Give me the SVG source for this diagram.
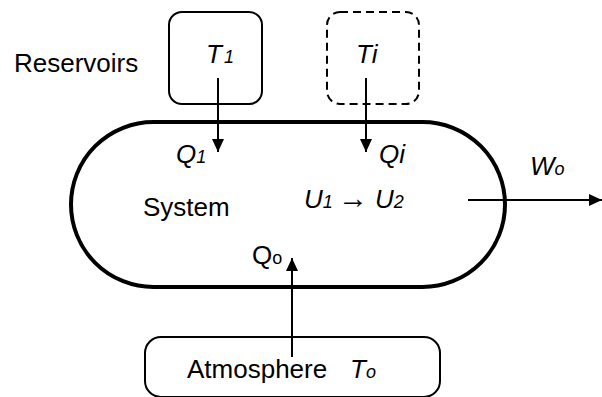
<svg xmlns="http://www.w3.org/2000/svg" width="602" height="397" viewBox="0 0 602 397">
<style>
text{font-family:"Liberation Sans",Arial,sans-serif;font-size:26px;fill:#000}
.it{font-style:italic}
.sub{font-size:18px}
.box{fill:none;stroke:#000;stroke-width:2}
.con{stroke:#000;stroke-width:2;fill:none}
</style>
<defs>
<marker id="ah" markerUnits="userSpaceOnUse" markerWidth="13" markerHeight="12" refX="13" refY="6" orient="auto">
<path d="M0,0 L13,6 L0,12 z" fill="#000"/>
</marker>
</defs>
<rect width="602" height="397" fill="#fff"/>
<text x="14" y="72">Reservoirs</text>
<g id="system">
<rect x="71" y="122" width="434" height="165" rx="82.5" fill="none" stroke="#000" stroke-width="4"/>
<text x="143" y="216">System</text>
<text y="208"><tspan x="304" class="it">U</tspan><tspan class="it sub">1</tspan><tspan x="338" font-size="30">→</tspan><tspan x="375" class="it">U</tspan><tspan class="it sub">2</tspan></text>
</g>
<g id="T1">
<rect class="box" x="169" y="12" width="93" height="92" rx="13"/>
<text x="206" y="63"><tspan class="it">T</tspan><tspan class="it sub" dx="2">1</tspan></text>
</g>
<g id="Ti">
<rect class="box" x="327" y="12" width="92" height="92" rx="13" stroke-dasharray="8,5"/>
<text x="356" y="63" class="it">Ti</text>
</g>
<g id="atmosphere">
<rect class="box" x="145" y="337" width="295" height="60" rx="16"/>
<text x="187" y="378">Atmosphere</text>
<text x="350" y="378"><tspan class="it">T</tspan><tspan class="it sub">o</tspan></text>
</g>
<g id="connectors">
<line class="con" x1="218" y1="78" x2="218" y2="152" marker-end="url(#ah)"/>
<line class="con" x1="366" y1="78" x2="366" y2="152" marker-end="url(#ah)"/>
<line class="con" x1="468" y1="200" x2="602" y2="200" marker-end="url(#ah)"/>
<line class="con" x1="292" y1="357" x2="292" y2="258" marker-end="url(#ah)"/>
<text x="176" y="163"><tspan class="it">Q</tspan><tspan class="it sub">1</tspan></text>
<text x="379" y="163" class="it">Qi</text>
<text x="252" y="264">Q<tspan class="sub">o</tspan></text>
<text x="530" y="175"><tspan class="it">W</tspan><tspan class="it sub">o</tspan></text>
</g>
</svg>
